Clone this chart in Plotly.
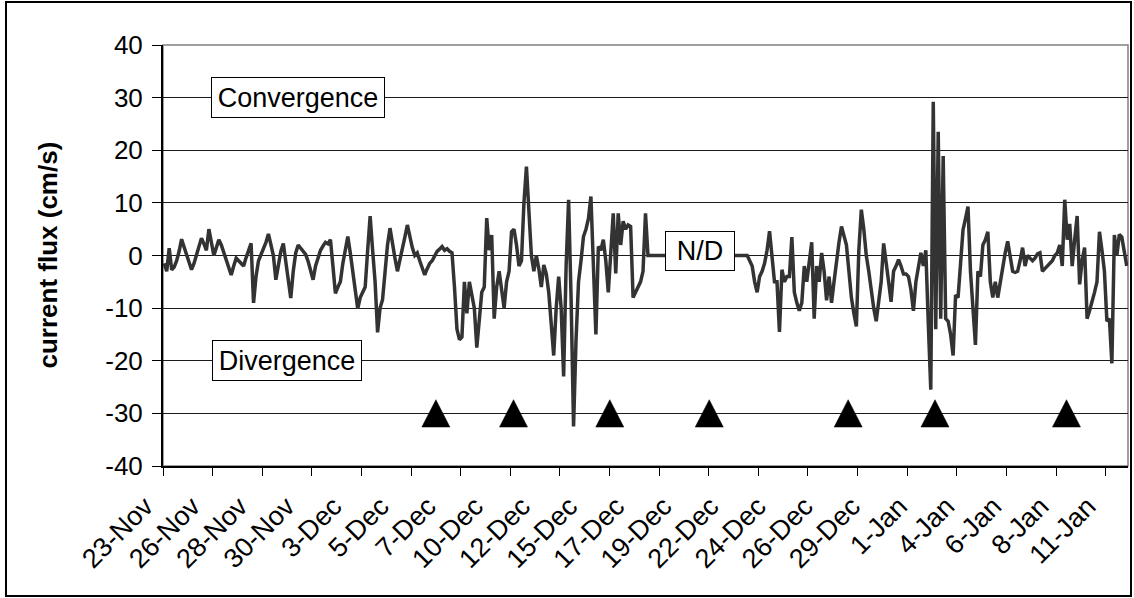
import plotly.graph_objects as go

# Current flux samples, one per category slot on the time axis (cm/s)
flux = [
    -1.5, -3.0, 1.4, -2.7, -2.2, -1.0, 0.8, 3.1, 1.6, 0.0,
    -1.2, -2.7, -1.5, 0.2, 1.5, 3.3, 2.2, 1.0, 5.0, 2.8,
    0.0, 1.5, 3.0, 2.0, 0.6, -1.0, -2.4, -3.7, -2.0, -0.5,
    -1.0, -1.6, -2.0, -0.4, 1.2, 2.3, -9.0, -4.0, -1.0, 0.2,
    1.0, 2.5, 4.1, 1.8, 0.0, -4.6, -1.5, 0.8, 2.3, -1.0,
    -4.5, -8.1, -3.0, 0.5, 2.0, 1.4, 1.0, 0.2, -1.1, -2.8,
    -4.6, -2.0, -0.3, 1.0, 1.8, 2.5, 2.2, 3.0, -2.0, -7.2,
    -6.0, -5.0, -1.5, 1.5, 3.6, 0.5, -3.0, -6.0, -10.1, -8.0,
    -7.0, -6.0, 1.0, 7.5, 1.0, -5.0, -14.6, -10.0, -8.4, -3.0,
    2.0, 5.2, 2.0, -0.5, -3.0, -1.0, 1.5, 3.5, 5.8, 3.5,
    1.5, 0.0, 0.5, -1.0, -2.5, -3.7, -2.5, -1.5, -1.0, 0.0,
    0.8, 1.2, 1.7, 1.0, 1.3, 0.8, 0.5, -6.0, -14.0, -16.0,
    -15.5, -5.0, -11.0, -5.0, -8.0, -10.0, -17.5, -12.0, -7.0, -6.0,
    7.1, 1.0, 3.9, -12.0, -6.0, -3.0, -6.5, -10.0, -5.0, -3.0,
    4.5, 5.0, 2.0, -2.0, -1.0, 10.0, 16.9, 8.0, 0.0, -3.0,
    0.0, -2.5, -6.0, -1.8, -3.5, -7.0, -13.0, -19.0, -10.0, -4.0,
    -10.0, -23.0, -2.0, 10.6, -8.0, -32.5, -16.0, -5.0, -1.0, 3.6,
    5.0, 7.0, 11.2, -3.0, -15.0, 1.7, 1.0, 3.0, -1.0, -7.0,
    2.0, 8.0, -3.4, 8.0, 2.0, 6.5, 5.0, 5.8, 5.5, -8.0,
    -7.0, -6.0, -5.0, -3.0, 8.0, 0.0, 0.0, 0.0, 0.0, 0.0,
    0.0, 0.0, 0.0, 0.0, 0.0, 0.0, 0.0, 0.0, 0.0, 0.0,
    0.0, 0.0, 0.0, 0.0, 0.0, 0.0, 0.0, 0.0, 0.0, 0.0,
    0.0, 0.0, 0.0, 0.0, 0.0, 0.0, 0.0, 0.0, 0.0, 0.0,
    0.0, 0.0, 0.0, 0.0, 0.0, 0.0, -1.0, -2.0, -5.0, -7.0,
    -4.0, -3.0, -1.5, 1.0, 4.6, -1.0, -5.0, -5.0, -14.5, -2.7,
    -5.0, -4.0, -4.0, 3.5, -7.0, -9.0, -10.5, -9.0, -2.0, -5.0,
    -1.0, 2.5, -12.0, -2.0, -5.0, 0.5, -3.0, -8.5, -4.0, -9.0,
    -5.0, -1.0, 2.5, 5.5, 4.0, 2.0, -3.0, -8.0, -11.0, -13.5,
    1.0, 8.7, 5.0, 0.0, -3.0, -7.0, -10.0, -12.5, -8.0, -5.0,
    2.3, -2.0, -5.0, -8.8, -3.0, -2.0, -0.8, -2.0, -3.5, -3.5,
    -4.0, -6.5, -10.5, -5.0, -2.0, 0.5, -2.0, 1.0, -13.0, -25.5,
    29.2, -14.0, 23.5, -12.0, 18.9, -12.0, -12.5, -15.0, -19.0, -7.5,
    -8.0, -2.0, 4.9, 7.0, 9.3, -3.0, -10.0, -17.0, -3.0, -4.0,
    2.0, 3.0, 4.5, -5.0, -8.0, -5.0, -8.0, -5.0, -2.0, 0.5,
    2.7, 0.0, -3.0, -3.2, -3.0, -1.0, 1.5, -2.0, 0.0, -0.5,
    -1.0, -0.5, 0.3, 0.5, -3.0, -2.5, -2.0, -1.5, -1.0, 0.0,
    0.5, 2.0, -2.0, 10.6, 3.0, 6.0, -2.0, 3.0, 7.5, -5.5,
    -1.0, 1.5, -12.0, -10.5, -9.0, -7.0, -5.0, 4.5, 1.0, -3.0,
    -12.5, -12.0, -20.5, 3.9, 0.0, 4.0, 3.5, 1.0, -2.0,
]

# Date labels shown along the time axis (one every 19 slots), tick marks every 20 slots
date_labels = [
    "23-Nov", "26-Nov", "28-Nov", "30-Nov", "3-Dec", "5-Dec", "7-Dec",
    "10-Dec", "12-Dec", "15-Dec", "17-Dec", "19-Dec", "22-Dec", "24-Dec",
    "26-Dec", "29-Dec", "1-Jan", "4-Jan", "6-Jan", "8-Jan", "11-Jan",
]
label_every = 19
tick_every = 20

# Value-axis ticks, written with a plain hyphen for negatives
y_ticks = [-40, -30, -20, -10, 0, 10, 20, 30, 40]
y_ticktext = [str(v) for v in y_ticks]

# Event markers: slot index of each event, drawn at a fixed level
event_slots = [109.5, 140.8, 179.6, 219.7, 275.7, 310.7, 363.7]
event_level = -30

n = len(flux)
x = [i + 0.5 for i in range(n)]

FONT = "Arial, Liberation Sans, sans-serif"

fig = go.Figure()

fig.add_trace(go.Scatter(
    x=x, y=flux, mode="lines",
    line=dict(color="#333333", width=3.5),
    hoverinfo="skip", showlegend=False,
))

# Filled triangles for events (half-width in slots, half-height in cm/s)
hw, hh = 5.65, 2.6
tx, ty = [], []
for s in event_slots:
    c = s + 0.5
    tx += [c - hw, c + hw, c, c - hw, None]
    ty += [event_level - hh, event_level - hh, event_level + hh, event_level - hh, None]
fig.add_trace(go.Scatter(
    x=tx, y=ty, mode="lines", fill="toself", fillcolor="black",
    line=dict(color="black", width=0.5), hoverinfo="skip", showlegend=False,
))

label_pos = [i * label_every + 0.5 for i in range(len(date_labels))]

fig.update_layout(
    width=1134, height=598,
    margin=dict(l=163, r=6, t=45, b=132),
    paper_bgcolor="white", plot_bgcolor="white",
    font=dict(family=FONT, color="black", size=25),
    xaxis=dict(
        range=[0, n], showgrid=False, zeroline=False,
        showline=True, linecolor="black", linewidth=1.5,
        tickmode="array", tickvals=label_pos, ticktext=date_labels,
        ticks="", tickangle=-45, tickfont=dict(size=27, family=FONT),
        ticklabelshift=-19, ticklabelstandoff=12,
        minor=dict(ticks="outside", tickmode="linear", tick0=0, dtick=tick_every,
                   ticklen=8, tickcolor="black", tickwidth=1, showgrid=False),
    ),
    yaxis=dict(
        range=[-40, 40], tickmode="array", tickvals=y_ticks, ticktext=y_ticktext,
        showgrid=True, gridcolor="#1a1a1a", gridwidth=1, zeroline=False,
        showline=True, linecolor="black", linewidth=2,
        ticks="outside", ticklen=9, tickcolor="black", tickwidth=1,
        tickfont=dict(size=26, family=FONT), ticklabelstandoff=4,
    ),
    shapes=[
        # plot-area frame
        dict(type="rect", xref="paper", yref="paper", x0=0, x1=1, y0=0, y1=1,
             line=dict(color="#808080", width=1.5), layer="below"),
        # outer chart frame
        dict(type="rect", xref="paper", yref="paper",
             x0=(6 - 163) / 965, x1=(1131 - 163) / 965,
             y0=(466 - 596) / 421, y1=(466 - 2) / 421,
             line=dict(color="black", width=2)),
    ],
    annotations=[
        dict(text="<b>current flux (cm/s)</b>", xref="paper", yref="paper",
             x=(47 - 163) / 965, y=0.5, textangle=-90, showarrow=False,
             font=dict(size=26, family=FONT, color="black"),
             xanchor="center", yanchor="middle"),
        dict(text="Convergence", x=54.6, y=30, xref="x", yref="y", showarrow=False,
             font=dict(size=27, family=FONT), bgcolor="white",
             bordercolor="black", borderwidth=1, borderpad=1, width=170, height=37),
        dict(text="Divergence", x=49.8, y=-20, xref="x", yref="y", showarrow=False,
             font=dict(size=27, family=FONT), bgcolor="white",
             bordercolor="black", borderwidth=1, borderpad=1, width=146, height=37),
        dict(text="N/D", x=216.5, y=0.8, xref="x", yref="y", showarrow=False,
             font=dict(size=27, family=FONT), bgcolor="white",
             bordercolor="black", borderwidth=1, borderpad=1, width=66, height=36),
    ],
)

fig.write_html("out.html")
